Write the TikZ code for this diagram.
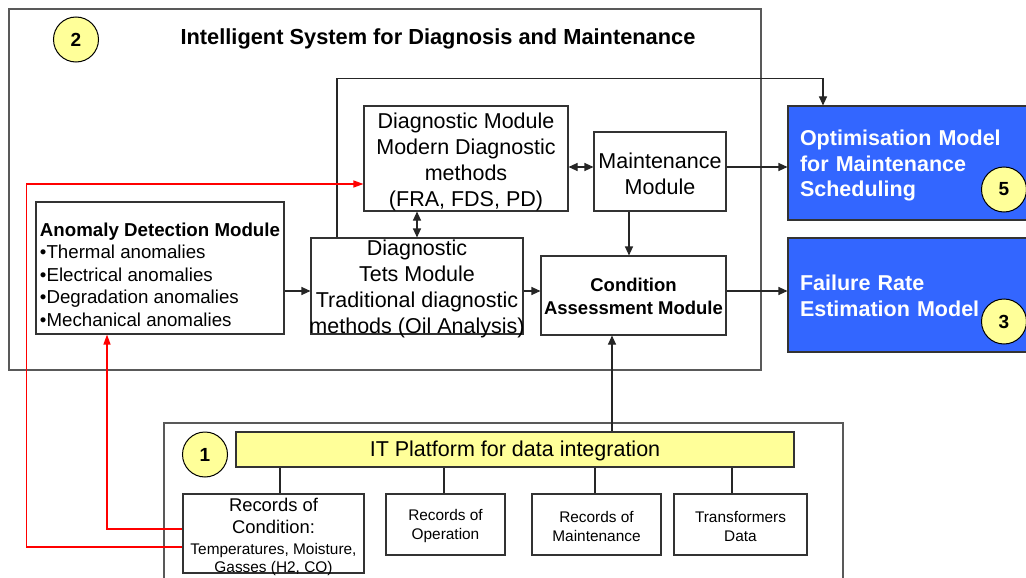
\documentclass[tikz,border=0pt]{standalone}
\usepackage{fontspec}
\setmainfont{Liberation Sans}
\usetikzlibrary{arrows.meta}
\definecolor{bluebox}{HTML}{3366FF}
\definecolor{yel}{HTML}{FFFF99}
\newcommand\lift[1]{\rule{0pt}{\dimexpr0.74em+#1\relax}}
\newcommand\overtext[3]{\raisebox{#1}[30pt][30pt]{\makebox[0pt]{\parbox[c]{#2}{\centering #3}}}}
\begin{document}
\begin{tikzpicture}[x=1pt,y=-1pt,
  box/.style={draw=black!80, line width=1.1pt, rectangle, inner sep=0pt, align=center},
  frame/.style={draw=black!65, line width=1.1pt, rectangle, inner sep=0pt},
  conn/.style={line width=1.1pt, black!85},
  arr/.style={conn, -{Triangle[length=9pt,width=8pt]}},
  darr/.style={conn, {Triangle[length=9pt,width=8pt]}-{Triangle[length=9pt,width=8pt]}},
  redarr/.style={line width=1.3pt, red, -{Triangle[length=10pt,width=7pt]}},
  num/.style={circle, draw=black, line width=1pt, fill=yel, minimum size=45pt, inner sep=0pt, font=\bfseries\fontsize{19}{19}\selectfont},
  big/.style={font=\fontsize{21.5}{26}\selectfont},
  model/.style={box, fill=bluebox, text=white, minimum width=252pt, minimum height=114pt, text width=228pt, inner xsep=12pt, align=left, font=\bfseries\fontsize{21.5}{25.5}\selectfont},
  rec/.style={box, minimum height=61pt, font=\fontsize{15.4}{19}\selectfont}
]
\useasboundingbox (0,0) rectangle (1026,578);
\clip (0,0) rectangle (1026,578);
\fill[white] (0,0) rectangle (1026,578);

% system frame
\node[frame, minimum width=752pt, minimum height=361pt] (sys) at (385,189.5) {};
\node[font=\bfseries\fontsize{21.8}{26}\selectfont] (title) at (438,38.5) {Intelligent System for Diagnosis and Maintenance};
\node[num] (n2) at (76,39.5) {2};

% modules
\node[box, big, minimum width=204pt, minimum height=105pt] (diag) at (466,158.5) {\lift{6pt}Diagnostic Module\\Modern Diagnostic\\methods\\(FRA, FDS, PD)};
\node[box, big, minimum width=132pt, minimum height=79pt] (maint) at (660,171.5) {\lift{4pt}Maintenance\\Module};
\node[box, minimum width=185pt, minimum height=79pt, font=\bfseries\fontsize{18.5}{23}\selectfont] (cond) at (633.5,295.5) {\lift{2pt}Condition\\Assessment Module};
\node[box, big, minimum width=212pt, minimum height=96pt] (tets) at (417,286) {\overtext{-8.3pt}{240pt}{Diagnostic\\Tets Module\\Traditional diagnostic\\methods (Oil Analysis)}};
\node[box, minimum width=248pt, minimum height=132pt, align=left, font=\fontsize{18.7}{22.4}\selectfont] (anom) at (160,268) {\lift{13pt}\textbf{Anomaly Detection Module}\\•Thermal anomalies\\•Electrical anomalies\\•Degradation anomalies\\•Mechanical anomalies};

% models
\node[model] (opt) at (914,163) {\lift{5pt}Optimisation Model\\for Maintenance\\Scheduling};
\node[model] (fail) at (914,295) {\lift{1pt}Failure Rate\\Estimation Model};
\node[num] (n5) at (1004,189.5) {5};
\node[num] (n3) at (1004,321.5) {3};

% platform
\node[frame, minimum width=679pt, minimum height=177pt] (plat) at (503.5,511.5) {};
\node[box, fill=yel, minimum width=558pt, minimum height=35pt, font=\fontsize{21.5}{26}\selectfont] (it) at (515,449.5) {\lift{2pt}IT Platform for data integration};
\node[num] (n1) at (205,454.5) {1};
\node[box, minimum width=181pt, minimum height=79pt, font=\fontsize{18.4}{22}\selectfont] (rc) at (273.5,533.5) {\overtext{-8.2pt}{200pt}{Records of\\Condition:\\[-1pt]\fontsize{15.4}{22}\selectfont Temperatures, Moisture,\\[-4pt]Gasses (H2, CO)}};
\node[rec, minimum width=119pt] (ro) at (445.5,524.5) {\lift{3pt}Records of\\Operation};
\node[rec, minimum width=129pt] (rm) at (596.5,524.5) {\lift{3pt}Records of\\Maintenance};
\node[rec, minimum width=133pt] (td) at (740.5,524.5) {\lift{3pt}Transformers\\Data};

% platform connectors
\draw[conn] ([xshift=6.5pt]rc.north) -- ([xshift=6.5pt]rc.north |- it.south);
\draw[conn] ([xshift=-1.5pt]ro.north) -- ([xshift=-1.5pt]ro.north |- it.south);
\draw[conn] ([xshift=-1.5pt]rm.north) -- ([xshift=-1.5pt]rm.north |- it.south);
\draw[conn] ([xshift=-8.5pt]td.north) -- ([xshift=-8.5pt]td.north |- it.south);
\draw[arr] ([xshift=97pt]it.north) -- ([xshift=97pt]it.north |- cond.south);

% module connectors
\draw[arr] ([yshift=-23pt]anom.east) -- ([yshift=-23pt]anom.east -| tets.west);
\draw[arr] ([yshift=-5pt]tets.east) -- ([yshift=-5pt]tets.east -| cond.west);
\draw[arr] ([yshift=4.5pt]cond.east) -- ([yshift=4.5pt]cond.east -| fail.west);
\draw[arr] ([yshift=4.5pt]maint.east) -- ([yshift=4.5pt]maint.east -| opt.west);
\draw[darr] ([yshift=4.5pt]maint.west) -- ([yshift=4.5pt]maint.west -| diag.east);
\draw[arr] ([xshift=-31pt]maint.south) -- ([xshift=-31pt]maint.south |- cond.north);
\draw[darr] (tets.north) -- (tets.north |- diag.south);
\draw[arr] ([xshift=-80pt]tets.north) -- ++(0,-159) -| ([xshift=-91pt]opt.north);

% red feedback lines
\draw[redarr] ([yshift=4.5pt]rc.west) -| ([xshift=-53pt]anom.south);
\draw[redarr] ([yshift=-13.5pt]rc.west) -- ++(-156,0) |- ([yshift=-25.5pt]diag.west);
\end{tikzpicture}
\end{document}
